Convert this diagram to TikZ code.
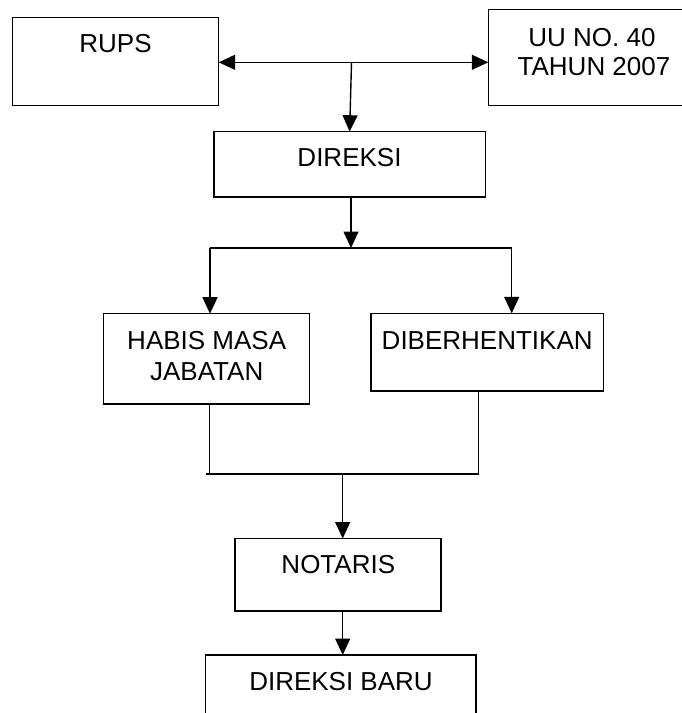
\documentclass[tikz,border=0pt]{standalone}
\usepackage{fontspec}
\setmainfont{Liberation Sans}
\usetikzlibrary{arrows.meta}
\begin{document}
\begin{tikzpicture}[x=1pt,y=-1pt,
  box/.style={draw,line width=1.5pt,rectangle,inner sep=0pt,outer sep=0pt,anchor=north west},
  lbl/.style={inner sep=0pt,anchor=base,font=\fontsize{26}{30}\selectfont},
  conn/.style={line width=1.4pt},
  arr/.style={line width=1.4pt,-{Triangle[length=16.5pt,width=15pt]}},
  arrtwo/.style={line width=1.4pt,{Triangle[length=16.5pt,width=15pt]}-{Triangle[length=16.5pt,width=15pt]}}]
\clip (0,0) rectangle (682,713);
\fill[white] (0,0) rectangle (682,713);
% boxes
\node[box,minimum width=206.4pt,minimum height=88pt] (rups) at (12.3,17.3) {};
\node[box,minimum width=209.7pt,minimum height=96pt] (uu) at (488.3,9.3) {};
\node[box,minimum width=271.3pt,minimum height=65.3pt] (direksi) at (214,131.7) {};
\node[box,minimum width=206pt,minimum height=90.3pt] (habis) at (103.7,313.7) {};
\node[box,minimum width=232.3pt,minimum height=77.7pt] (diber) at (371,313.3) {};
\node[box,minimum width=206pt,minimum height=72.5pt] (notaris) at (235,538.5) {};
\node[box,minimum width=270.3pt,minimum height=90pt] (baru) at (205.7,655) {};
% labels
\node[lbl] (trups) at (115.5,52.3) {RUPS};
\node[lbl] (tuua) at (592,46) {UU NO. 40};
\node[lbl] (tuub) at (594,75.5) {TAHUN 2007};
\node[lbl] (tdir) at (349.5,166.7) {DIREKSI};
\node[lbl] (thaa) at (206.7,349.3) {HABIS MASA};
\node[lbl] (thab) at (206.7,380) {JABATAN};
\node[lbl] (tdib) at (487.2,349.3) {DIBERHENTIKAN};
\node[lbl] (tnot) at (338.3,573.3) {NOTARIS};
\node[lbl] (tbaru) at (341,690) {DIREKSI BARU};
% connectors
\coordinate (hy) at (0,62.3);
\coordinate (split) at (351.5,62.3);
\draw[arrtwo] (rups.east |- hy) -- (uu.west |- hy);
\draw[arr] (split) -- (direksi.north);
\coordinate (jd) at (351,248);
\coordinate (bl) at (210,248);
\coordinate (br) at (511.7,248);
\draw[arr] (direksi.south -| jd) -- (jd);
\draw[conn] (bl) -- (br);
\draw[arr] (bl) -- (bl |- habis.north);
\draw[arr] (br) -- (br |- diber.north);
\coordinate (ml) at (209.7,474);
\coordinate (mr) at (478.7,474);
\coordinate (ms) at (205.7,474);
\coordinate (mm) at (342.7,474);
\draw[conn] (ml |- habis.south) -- (ml);
\draw[conn] (mr |- diber.south) -- (mr);
\draw[conn] (ms) -- (mr);
\draw[arr] (mm) -- (mm |- notaris.north);
\draw[arr] (mm |- notaris.south) -- (mm |- baru.north);
\end{tikzpicture}
\end{document}
